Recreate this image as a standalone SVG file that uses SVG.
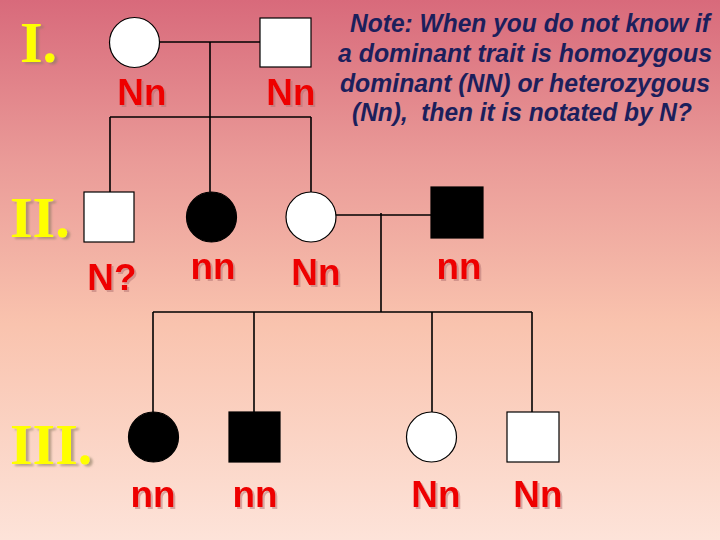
<svg xmlns="http://www.w3.org/2000/svg" width="720" height="540" viewBox="0 0 720 540">
<defs>
<linearGradient id="bg" x1="0" y1="0" x2="0" y2="1">
<stop offset="0" stop-color="#D86A7B"/>
<stop offset="0.3" stop-color="#EA9B98"/>
<stop offset="0.6" stop-color="#F9C3AE"/>
<stop offset="1" stop-color="#FDE3D9"/>
</linearGradient>
<filter id="rsh" x="-20%" y="-20%" width="140%" height="140%">
<feDropShadow dx="2" dy="2" stdDeviation="0.6" flood-color="#B07070" flood-opacity="0.5"/>
</filter>
<filter id="ysh" x="-20%" y="-20%" width="140%" height="140%">
<feDropShadow dx="3" dy="2" stdDeviation="0.8" flood-color="#8A7A60" flood-opacity="0.6"/>
</filter>
</defs>
<style>
.ln{stroke:#000;stroke-width:1.6;fill:none}
.open{fill:#fff;stroke:#000;stroke-width:1.2}
.aff{fill:#000;stroke:#000;stroke-width:1.2}
.lab{font-family:"Liberation Sans",Arial,sans-serif;font-weight:bold;font-size:37px;fill:#EE0000;text-anchor:middle;filter:url(#rsh)}
.gen{font-family:"Liberation Serif","Times New Roman",serif;font-weight:bold;font-size:58px;fill:#FFFF00;filter:url(#ysh)}
.note{font-family:"Liberation Sans",Arial,sans-serif;font-weight:bold;font-style:italic;font-size:25px;fill:#1C1F5C;text-anchor:middle}
</style>
<rect width="720" height="540" fill="url(#bg)"/>

<g id="gen-labels">
<text class="gen" x="20" y="62">I.</text>
<text class="gen" x="10" y="237">II.</text>
<text class="gen" x="10" y="464">III.</text>
</g>

<g id="note">
<text class="note" x="530" y="32" textLength="360" lengthAdjust="spacingAndGlyphs">Note: When you do not know if</text>
<text class="note" x="525" y="62" textLength="374" lengthAdjust="spacingAndGlyphs">a dominant trait is homozygous</text>
<text class="note" x="525" y="92" textLength="370" lengthAdjust="spacingAndGlyphs">dominant (NN) or heterozygous</text>
<text class="note" x="522" y="121" textLength="340" lengthAdjust="spacingAndGlyphs" xml:space="preserve">(Nn),  then it is notated by N?</text>
</g>

<g id="connectors">
<line class="ln" x1="159" y1="42" x2="260" y2="42"/>
<line class="ln" x1="210" y1="42" x2="210" y2="117"/>
<line class="ln" x1="110" y1="117" x2="311" y2="117"/>
<line class="ln" x1="110" y1="117" x2="110" y2="192"/>
<line class="ln" x1="210" y1="117" x2="210" y2="192"/>
<line class="ln" x1="311" y1="117" x2="311" y2="192"/>
<line class="ln" x1="336" y1="215" x2="431" y2="215"/>
<line class="ln" x1="381" y1="213" x2="381" y2="312"/>
<line class="ln" x1="153" y1="312" x2="532" y2="312"/>
<line class="ln" x1="153" y1="312" x2="153" y2="412"/>
<line class="ln" x1="254" y1="312" x2="254" y2="412"/>
<line class="ln" x1="432" y1="312" x2="432" y2="412"/>
<line class="ln" x1="532" y1="312" x2="532" y2="412"/>
</g>

<g id="I-1"><circle class="open" cx="134.5" cy="42.5" r="25"/>
<text class="lab" x="142" y="105">Nn</text></g>
<g id="I-2"><rect class="open" x="260" y="18" width="51" height="49"/>
<text class="lab" x="291" y="105">Nn</text></g>

<g id="II-1"><rect class="open" x="84" y="192" width="50" height="50"/>
<text class="lab" x="112" y="290">N?</text></g>
<g id="II-2"><circle class="aff" cx="211.5" cy="217" r="25"/>
<text class="lab" x="213" y="279">nn</text></g>
<g id="II-3"><circle class="open" cx="311" cy="217" r="25"/>
<text class="lab" x="316" y="285">Nn</text></g>
<g id="II-4"><rect class="aff" x="431" y="187" width="52" height="51"/>
<text class="lab" x="459" y="279">nn</text></g>

<g id="III-1"><circle class="aff" cx="153.5" cy="437" r="25"/>
<text class="lab" x="153" y="507">nn</text></g>
<g id="III-2"><rect class="aff" x="229" y="412" width="51" height="50"/>
<text class="lab" x="255" y="507">nn</text></g>
<g id="III-3"><circle class="open" cx="431.5" cy="437" r="25"/>
<text class="lab" x="436" y="507">Nn</text></g>
<g id="III-4"><rect class="open" x="507" y="412" width="52" height="50"/>
<text class="lab" x="538" y="507">Nn</text></g>
</svg>
